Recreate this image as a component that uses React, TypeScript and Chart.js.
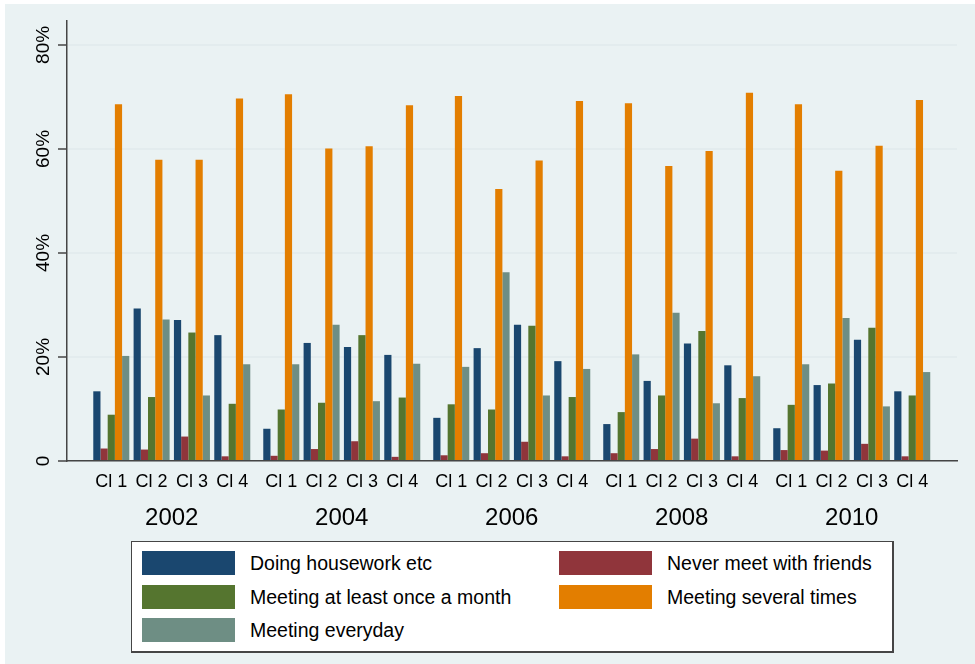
import { useEffect, useRef } from "react";
import { Chart, registerables } from "chart.js";

Chart.register(...registerables);

const years = ["2002", "2004", "2006", "2008", "2010"];
const clusters = ["Cl 1", "Cl 2", "Cl 3", "Cl 4"];
const yTicks = [0, 20, 40, 60, 80];
const yTickLabels = ["0", "20%", "40%", "60%", "80%"];

// one value per year x cluster, in the order 2002 Cl 1..Cl 4, 2004 Cl 1.. etc
const housework = [13.4, 29.3, 27.1, 24.2, 6.2, 22.7, 21.9, 20.4, 8.3, 21.7, 26.2, 19.2, 7.1, 15.4, 22.6, 18.4, 6.3, 14.6, 23.3, 13.4];
const neverMeet = [2.4, 2.2, 4.7, 0.9, 1.0, 2.3, 3.8, 0.8, 1.1, 1.5, 3.7, 0.9, 1.5, 2.3, 4.3, 0.9, 2.1, 2.0, 3.3, 0.9];
const onceAMonth = [8.9, 12.3, 24.7, 11.0, 9.9, 11.2, 24.2, 12.2, 10.9, 9.9, 26.0, 12.3, 9.4, 12.6, 25.0, 12.1, 10.8, 14.9, 25.6, 12.6];
const severalTimes = [68.6, 57.9, 57.9, 69.7, 70.5, 60.1, 60.5, 68.4, 70.2, 52.3, 57.8, 69.2, 68.8, 56.7, 59.6, 70.8, 68.6, 55.8, 60.6, 69.4];
const everyday = [20.2, 27.2, 12.6, 18.6, 18.6, 26.2, 11.5, 18.7, 18.1, 36.3, 12.6, 17.7, 20.5, 28.5, 11.1, 16.3, 18.6, 27.5, 10.5, 17.1];

const seriesLabels = [
  "Doing housework etc",
  "Never meet with friends",
  "Meeting at least once a month",
  "Meeting several times",
  "Meeting everyday",
];
const seriesValues = [housework, neverMeet, onceAMonth, severalTimes, everyday];
const seriesColors = ["#1A476F", "#90353B", "#55752F", "#E37E00", "#6E8E84"];

const FONT = "'Liberation Sans', Arial, sans-serif";
const BG = "#EAF2F3";
const AXIS = "#454545";

// x position in "cluster" units, with a little extra gap between years
const YEAR_PITCH = 4.215;
const xPos = (i: number) => Math.floor(i / clusters.length) * YEAR_PITCH + (i % clusters.length);
const X_MIN = -1.098;
const X_MAX = 20.97;

export default function App() {
  const chartRef = useRef<HTMLCanvasElement>(null);
  const chartInstance = useRef<Chart | null>(null);

  useEffect(() => {
    document.body.style.margin = "0";
    if (!chartRef.current) return;
    if (chartInstance.current) chartInstance.current.destroy();

    const ctx = chartRef.current.getContext("2d");
    if (!ctx) return;

    const clusterPositions = housework.map((_, i) => xPos(i));

    chartInstance.current = new Chart(ctx, {
      type: "bar",
      data: {
        datasets: seriesValues.map((vals, s) => ({
          label: seriesLabels[s],
          data: vals.map((v, i) => ({ x: xPos(i), y: v })),
          backgroundColor: seriesColors[s],
          borderWidth: 0,
          categoryPercentage: 0.893,
          barPercentage: 1,
        })),
      },
      options: {
        animation: false,
        responsive: true,
        maintainAspectRatio: false,
        layout: { padding: { top: 17, right: 18, left: 0, bottom: 0 } },
        font: { family: FONT },
        plugins: {
          legend: { display: false },
          tooltip: { enabled: false },
        },
        scales: {
          x: {
            type: "linear",
            min: X_MIN,
            max: X_MAX,
            offset: false,
            weight: 0,
            grid: { display: false, drawTicks: false, offset: false },
            border: { display: true, color: AXIS, width: 1.5 },
            ticks: {
              autoSkip: false,
              maxRotation: 0,
              minRotation: 0,
              padding: 10,
              color: "#000",
              font: { family: FONT, size: 18 },
              callback: (_v, i) => clusters[i % clusters.length],
            },
            afterBuildTicks: (scale) => {
              scale.ticks = clusterPositions.map((v) => ({ value: v }));
            },
            afterFit: (scale) => {
              scale.height = 36;
            },
          },
          x2: {
            type: "linear",
            position: "bottom",
            axis: "x",
            min: X_MIN,
            max: X_MAX,
            offset: false,
            weight: 1,
            grid: { display: false, drawTicks: false, offset: false },
            border: { display: false },
            ticks: {
              autoSkip: false,
              maxRotation: 0,
              minRotation: 0,
              padding: 7,
              color: "#000",
              font: { family: FONT, size: 24 },
              callback: (_v, i) => years[i],
            },
            afterBuildTicks: (scale) => {
              scale.ticks = years.map((_, g) => ({ value: g * YEAR_PITCH + 1.5 }));
            },
            afterFit: (scale) => {
              scale.height = 43;
            },
          },
          y: {
            min: 0,
            max: 84.6,
            grid: {
              color: "#E3ECEE",
              lineWidth: 2,
              tickLength: 9,
              tickColor: AXIS,
              tickWidth: 1.5,
            },
            border: { display: true, color: AXIS, width: 1.5 },
            ticks: {
              minRotation: 90,
              maxRotation: 90,
              crossAlign: "center",
              padding: -4.5,
              color: "#000",
              font: { family: FONT, size: 19 },
              callback: (_v, i) => yTickLabels[i],
            },
            afterBuildTicks: (scale) => {
              scale.ticks = yTicks.map((v) => ({ value: v }));
            },
            afterFit: (scale) => {
              scale.width = 62;
            },
          },
        },
      },
    });

    return () => {
      if (chartInstance.current) {
        chartInstance.current.destroy();
        chartInstance.current = null;
      }
    };
  }, []);

  return (
    <div style={{ position: "relative", width: 975, height: 664, background: "#fff", fontFamily: FONT }}>
      <div style={{ position: "absolute", left: 5, top: 4, width: 970, height: 660, background: BG }} />
      <div style={{ position: "absolute", left: 5, top: 4, width: 970, height: 536 }}>
        <canvas ref={chartRef} />
      </div>
      <div
        style={{
          position: "absolute",
          left: 131,
          top: 541,
          width: 760,
          height: 109,
          background: "#fff",
          border: `1px solid ${AXIS}`,
          borderRightWidth: 2,
          borderBottomWidth: 2,
        }}
      >
        {seriesLabels.map((label, i) => {
          const col = i % 2;
          const row = Math.floor(i / 2);
          return (
            <div key={label}>
              <div
                style={{
                  position: "absolute",
                  left: col ? 427 : 10,
                  top: 9 + row * 33.5,
                  width: 93,
                  height: 24,
                  background: seriesColors[i],
                }}
              />
              <div
                style={{
                  position: "absolute",
                  left: col ? 535 : 118,
                  top: 9 + row * 33.5,
                  height: 24,
                  lineHeight: "24px",
                  fontSize: 19.5,
                  color: "#000",
                  whiteSpace: "nowrap",
                }}
              >
                {label}
              </div>
            </div>
          );
        })}
      </div>
    </div>
  );
}
